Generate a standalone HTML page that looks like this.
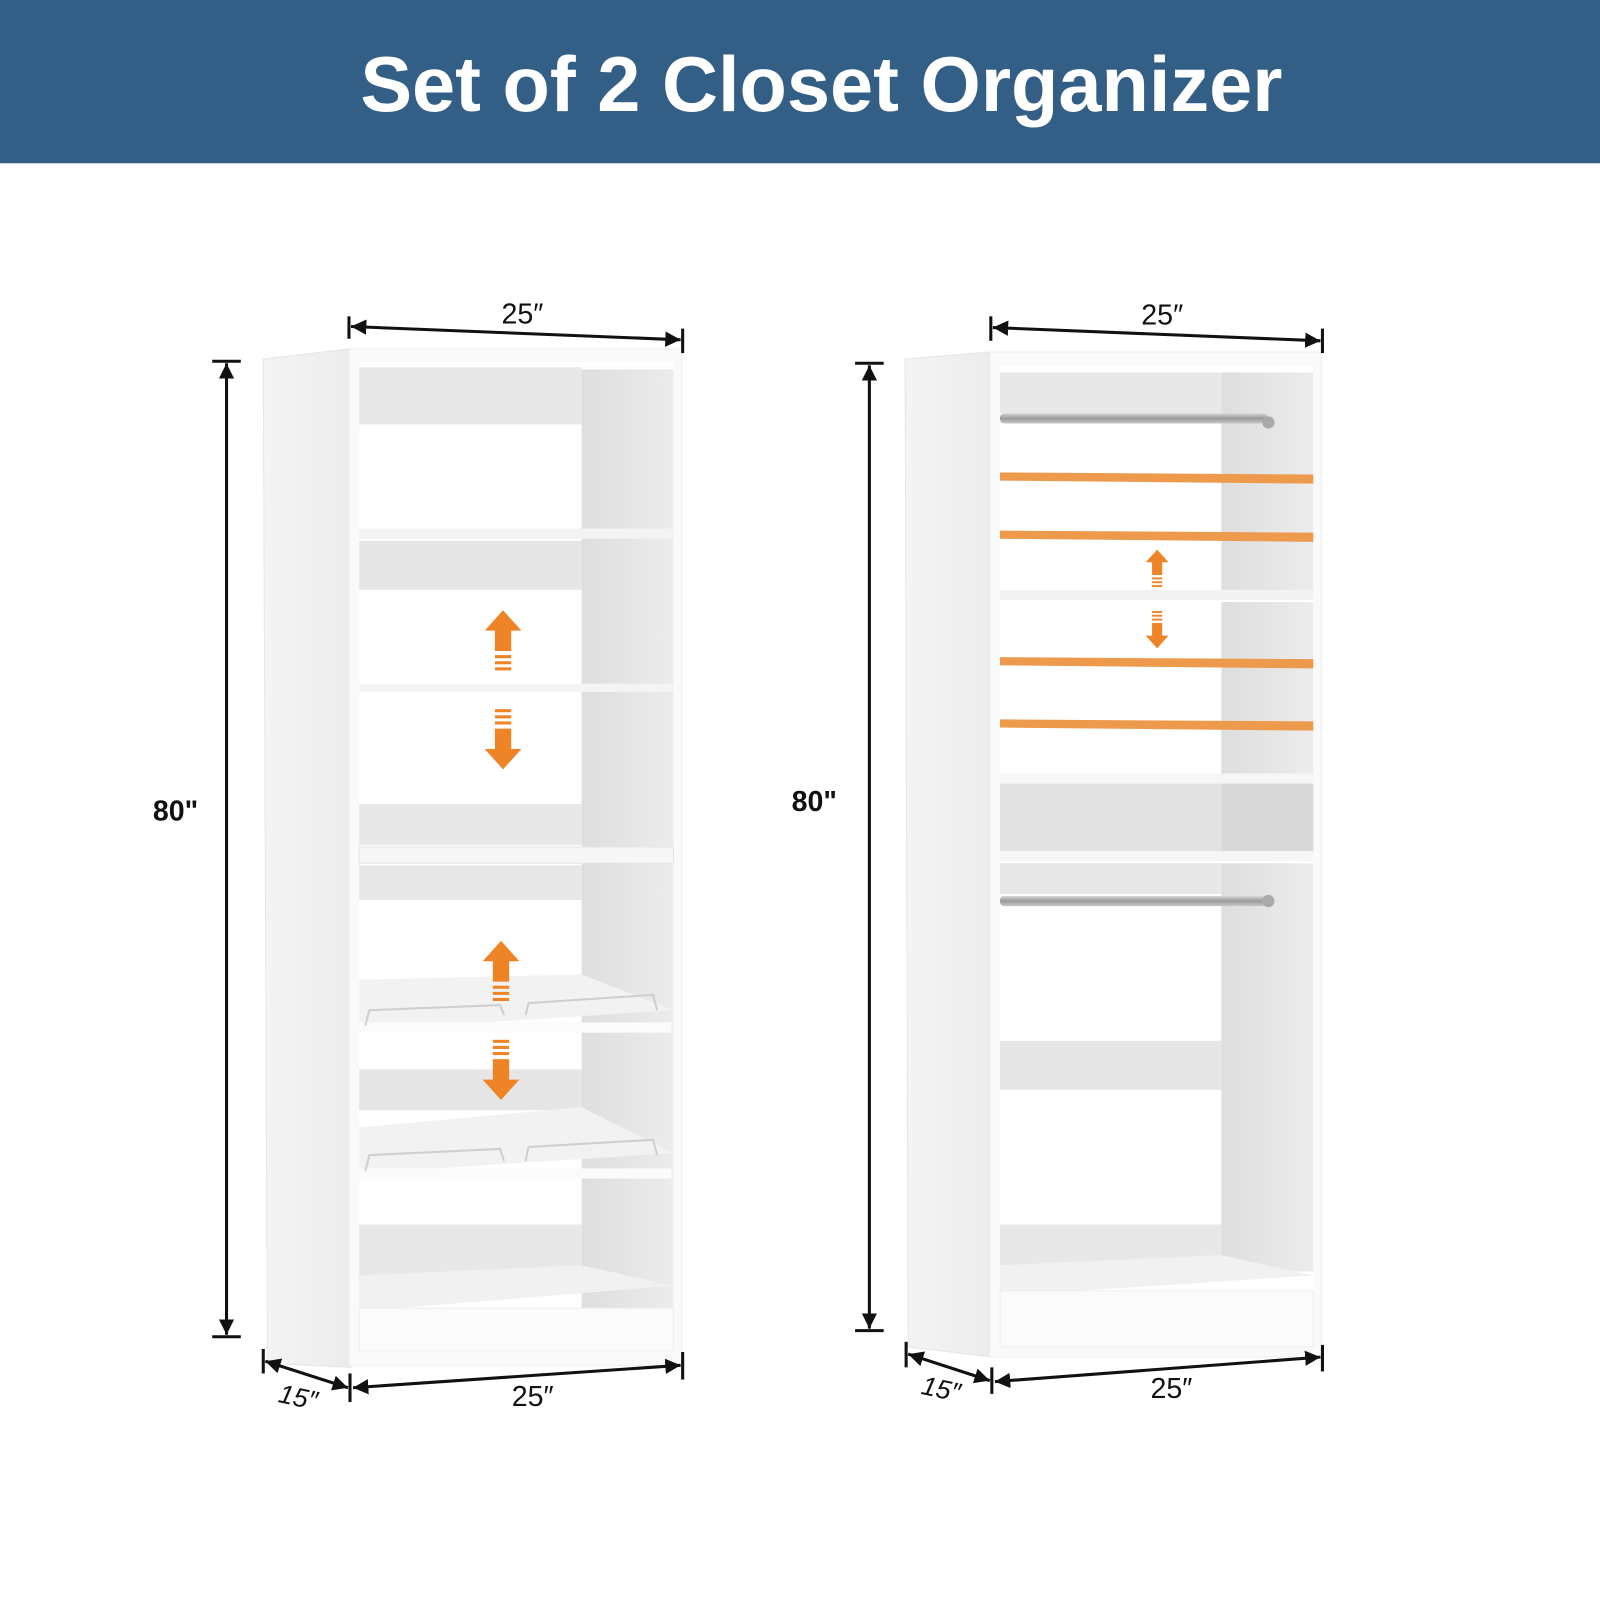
<!DOCTYPE html>
<html><head><meta charset="utf-8"><style>
html,body{margin:0;padding:0;background:#fff;}
svg{display:block;}
text{font-family:"Liberation Sans",sans-serif;}
</style></head><body>
<svg width="1600" height="1600" viewBox="0 0 1568 1568" xmlns="http://www.w3.org/2000/svg">
<defs>
<marker id="ah" viewBox="0 0 10 10" refX="10" refY="5" markerWidth="5" markerHeight="5" orient="auto-start-reverse"><path d="M0,0 L10,5 L0,10 z" fill="#111"/></marker>
<linearGradient id="sideg" x1="0" x2="1"><stop offset="0" stop-color="#f4f4f4"/><stop offset="1" stop-color="#ececec"/></linearGradient>
<linearGradient id="wallg" x1="0" x2="1"><stop offset="0" stop-color="#dedede"/><stop offset="1" stop-color="#ececec"/></linearGradient>
<linearGradient id="rod" x1="0" y1="0" x2="0" y2="1"><stop offset="0" stop-color="#d8d8d8"/><stop offset="0.5" stop-color="#9a9a9a"/><stop offset="1" stop-color="#c8c8c8"/></linearGradient>
<g id="oarr" fill="#ef8427">
 <polygon points="0,-78 -18,-58 -8,-58 -8,-38 8,-38 8,-58 18,-58"/>
 <rect x="-8" y="-34" width="16" height="3"/><rect x="-8" y="-28" width="16" height="3"/><rect x="-8" y="-22" width="16" height="3"/>
 <rect x="-8" y="19" width="16" height="3"/><rect x="-8" y="25" width="16" height="3"/><rect x="-8" y="31" width="16" height="3"/>
 <polygon points="0,78 -18,58 -8,58 -8,38 8,38 8,58 18,58"/>
</g>
</defs>
<rect width="1568" height="1568" fill="#fff"/>
<rect width="1568" height="160" fill="#335f86"/>
<text x="805" y="109" text-anchor="middle" font-size="76" fill="#fff" font-weight="bold">Set of 2 Closet Organizer</text>

<!-- LEFT CABINET -->
<polygon points="258,352 342,342 344,1340 262,1336" fill="url(#sideg)" stroke="#e6e6e6"/>
<rect x="342" y="342" width="326" height="996" fill="#fafafa" stroke="#eeeeee"/>
<rect x="352" y="355" width="308" height="970" fill="#ffffff"/>
<rect x="570" y="362" width="90" height="938" fill="url(#wallg)"/>
<rect x="352" y="360" width="218" height="56" fill="#e8e8e8"/>
<rect x="352" y="530" width="218" height="48" fill="#e6e6e6"/>
<rect x="352" y="788" width="218" height="40" fill="#e8e8e8"/>
<rect x="352" y="848" width="218" height="34" fill="#e8e8e8"/>
<rect x="352" y="1048" width="218" height="40" fill="#e6e6e6"/>
<rect x="352" y="1200" width="218" height="52" fill="#e8e8e8"/>
<rect x="352" y="518" width="308" height="10" fill="#f3f3f3"/>
<rect x="352" y="670" width="308" height="8" fill="#f4f4f4"/>
<rect x="352" y="830" width="308" height="16" fill="#f6f6f6" stroke="#e5e5e5"/>
<polygon points="352,960 570,955 660,990 352,1010" fill="#f2f2f2"/>
<rect x="352" y="1002" width="306" height="10" fill="#fbfbfb"/>
<polygon points="352,1105 570,1085 660,1130 352,1150" fill="#f2f2f2"/>
<rect x="352" y="1145" width="306" height="10" fill="#fbfbfb"/>
<polyline points="358,1005 362,990 490,985 494,995" fill="none" stroke="#cfcfcf" stroke-width="2"/>
<polyline points="515,995 518,983 640,975 644,990" fill="none" stroke="#cfcfcf" stroke-width="2"/>
<polyline points="358,1148 362,1132 490,1126 494,1138" fill="none" stroke="#cfcfcf" stroke-width="2"/>
<polyline points="515,1138 518,1124 640,1117 644,1132" fill="none" stroke="#cfcfcf" stroke-width="2"/>
<polygon points="352,1250 570,1240 660,1260 352,1285" fill="#f1f1f1"/>
<rect x="352" y="1282" width="308" height="42" fill="#fbfbfb" stroke="#eee"/>
<use href="#oarr" x="493" y="676"/>
<use href="#oarr" x="491" y="1000"/>

<!-- LEFT DIMENSIONS -->
<line x1="342" y1="310" x2="342" y2="332" stroke="#111" stroke-width="3"/>
<line x1="669" y1="322" x2="669" y2="346" stroke="#111" stroke-width="3"/>
<line x1="344" y1="320" x2="667" y2="333" stroke="#111" stroke-width="3" marker-start="url(#ah)" marker-end="url(#ah)"/>
<text x="512" y="317" text-anchor="middle" font-size="28" fill="#111">25″</text>
<line x1="208" y1="354" x2="236" y2="354" stroke="#111" stroke-width="3"/>
<line x1="208" y1="1310" x2="236" y2="1310" stroke="#111" stroke-width="3"/>
<line x1="222" y1="356" x2="222" y2="1308" stroke="#111" stroke-width="3" marker-start="url(#ah)" marker-end="url(#ah)"/>
<text x="172" y="804" text-anchor="middle" font-size="28" font-weight="bold" fill="#111">80"</text>
<line x1="258" y1="1322" x2="258" y2="1346" stroke="#111" stroke-width="3"/>
<line x1="343" y1="1346" x2="343" y2="1374" stroke="#111" stroke-width="3"/>
<line x1="260" y1="1334" x2="341" y2="1360" stroke="#111" stroke-width="3" marker-start="url(#ah)" marker-end="url(#ah)"/>
<text x="292" y="1378" text-anchor="middle" font-size="26" font-style="italic" fill="#111" transform="rotate(12 292 1370)">15″</text>
<line x1="669" y1="1325" x2="669" y2="1352" stroke="#111" stroke-width="3"/>
<line x1="346" y1="1360" x2="667" y2="1338" stroke="#111" stroke-width="3" marker-start="url(#ah)" marker-end="url(#ah)"/>
<text x="522" y="1378" text-anchor="middle" font-size="28" fill="#111">25″</text>

<!-- RIGHT CABINET -->
<polygon points="887,352 970,345 973,1330 890,1320" fill="url(#sideg)" stroke="#e6e6e6"/>
<rect x="970" y="345" width="325" height="985" fill="#fafafa" stroke="#eeeeee"/>
<rect x="980" y="358" width="307" height="960" fill="#ffffff"/>
<rect x="980" y="365" width="217" height="40" fill="#e8e8e8"/>
<rect x="1197" y="365" width="90" height="215" fill="url(#wallg)"/>
<rect x="980" y="578" width="307" height="10" fill="#f3f3f3"/>
<rect x="1197" y="590" width="90" height="168" fill="url(#wallg)"/>
<rect x="980" y="758" width="307" height="10" fill="#f6f6f6"/>
<rect x="980" y="768" width="307" height="68" fill="#e2e2e2"/>
<rect x="1197" y="768" width="90" height="68" fill="#d9d9d9"/>
<rect x="980" y="834" width="307" height="10" fill="#f6f6f6"/>
<rect x="980" y="846" width="217" height="30" fill="#e8e8e8"/>
<rect x="1197" y="846" width="90" height="400" fill="url(#wallg)"/>
<rect x="980" y="1020" width="217" height="48" fill="#e6e6e6"/>
<rect x="980" y="1200" width="217" height="40" fill="#e8e8e8"/>
<polygon points="980,1240 1197,1230 1287,1250 980,1270" fill="#f1f1f1"/>
<rect x="980" y="1265" width="307" height="55" fill="#fbfbfb" stroke="#eee"/>
<rect x="980" y="405" width="262" height="10" rx="4" fill="url(#rod)"/>
<circle cx="1243" cy="414" r="6" fill="#aaa"/>
<rect x="980" y="878" width="262" height="10" rx="4" fill="url(#rod)"/>
<circle cx="1243" cy="883" r="6" fill="#aaa"/>
<g fill="#ee9a4d">
<polygon points="980,463 1287,465 1287,474 980,471"/>
<polygon points="980,520 1287,522 1287,531 980,528"/>
<polygon points="980,644 1287,646 1287,655 980,652"/>
<polygon points="980,705 1287,707 1287,716 980,713"/>
</g>
<g transform="translate(1134 587) scale(0.62)"><use href="#oarr"/></g>

<!-- RIGHT DIMENSIONS -->
<line x1="971" y1="310" x2="971" y2="334" stroke="#111" stroke-width="3"/>
<line x1="1296" y1="322" x2="1296" y2="346" stroke="#111" stroke-width="3"/>
<line x1="973" y1="321" x2="1294" y2="334" stroke="#111" stroke-width="3" marker-start="url(#ah)" marker-end="url(#ah)"/>
<text x="1139" y="318" text-anchor="middle" font-size="28" fill="#111">25″</text>
<line x1="838" y1="356" x2="866" y2="356" stroke="#111" stroke-width="3"/>
<line x1="838" y1="1304" x2="866" y2="1304" stroke="#111" stroke-width="3"/>
<line x1="852" y1="358" x2="852" y2="1302" stroke="#111" stroke-width="3" marker-start="url(#ah)" marker-end="url(#ah)"/>
<text x="798" y="795" text-anchor="middle" font-size="28" font-weight="bold" fill="#111">80"</text>
<line x1="888" y1="1315" x2="888" y2="1340" stroke="#111" stroke-width="3"/>
<line x1="972" y1="1340" x2="972" y2="1366" stroke="#111" stroke-width="3"/>
<line x1="890" y1="1327" x2="970" y2="1353" stroke="#111" stroke-width="3" marker-start="url(#ah)" marker-end="url(#ah)"/>
<text x="922" y="1370" text-anchor="middle" font-size="26" font-style="italic" fill="#111" transform="rotate(12 922 1362)">15″</text>
<line x1="1296" y1="1318" x2="1296" y2="1344" stroke="#111" stroke-width="3"/>
<line x1="975" y1="1354" x2="1294" y2="1330" stroke="#111" stroke-width="3" marker-start="url(#ah)" marker-end="url(#ah)"/>
<text x="1148" y="1370" text-anchor="middle" font-size="28" fill="#111">25″</text>
</svg>
</body></html>
